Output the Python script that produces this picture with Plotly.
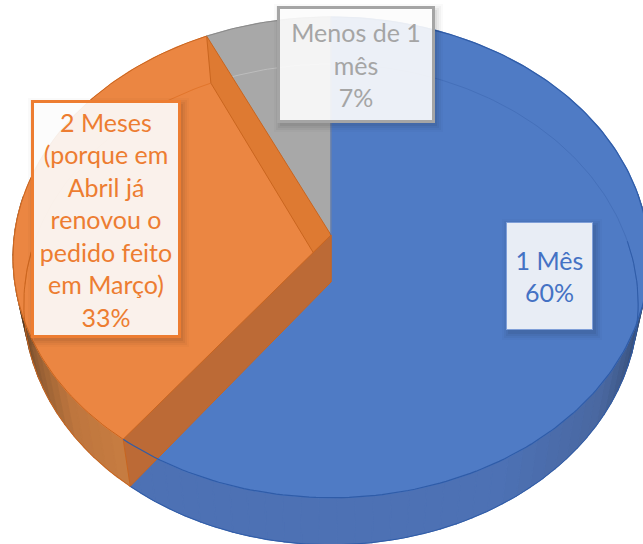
import numpy as np
import plotly.graph_objects as go

categories = ["1 Mês", "2 Meses (porque em Abril já renovou o pedido feito em Março)", "Menos de 1 mês"]
values = [60.4, 32.6, 7.0]
label_lines = [["1 Mês"], ["2 Meses", "(porque em", "Abril já", "renovou o", "pedido feito", "em Março)"], ["Menos de 1", "mês"]]
top_colors = ["#4F7BC5", "#EB8642", "#A8A8A8"]
text_colors = ["#4472C4", "#ED7D31", "#A5A5A5"]
box_borders = ["#7F9FD8", "#ED7D31", "#A5A5A5"]
# label boxes: left, top, right, bottom (page pixels)
boxes = [(506, 222, 592, 329), (32, 101, 179, 336), (278, 7, 433, 121)]
box_alpha = [0.88, 0.90, 0.90]
box_line = [1, 3, 3]

W, H = 643, 544
CX, CY_TOP, CY_BOT = 331, 235, 282
A, B, K = 316.6, 238.3, -0.093
BOT_X, BOT_Y = 0.966, 1.0


def proj(deg, level=0):
    t = np.radians(np.asarray(deg, dtype=float))
    u, v = np.sin(t), -np.cos(t)
    d = 1 + K * v
    if level == 0:
        return CX + A * u / d, CY_TOP + B * v / d
    return CX + BOT_X * A * u / d, CY_BOT + BOT_Y * B * v / d


def lerp_color(stops, a):
    xs = [s[0] for s in stops]
    rgb = [np.interp(a, xs, [s[1][i] for s in stops]) for i in range(3)]
    return "rgb(%d,%d,%d)" % tuple(rgb)


total = sum(values)
edges = np.cumsum([0] + values) / total * 360
b0, b1 = edges[0], edges[1]
o0, o1 = edges[1], edges[2]
g0, g1 = edges[2], edges[3]

fig = go.Figure()


def poly(x, y, fill, line=None, width=0):
    x = list(x) + [x[0]]
    y = list(y) + [y[0]]
    fig.add_trace(go.Scatter(x=x, y=y, mode="lines", fill="toself", fillcolor=fill,
                             line=dict(color=line or fill, width=width if line else 1.2),
                             hoverinfo="skip", showlegend=False))


def line(x, y, color, width=1.0):
    fig.add_trace(go.Scatter(x=list(x), y=list(y), mode="lines", line=dict(color=color, width=width),
                             hoverinfo="skip", showlegend=False))


blue_side = [(85, (38, 52, 80)), (100, (46, 66, 102)), (125, (74, 104, 160)), (150, (77, 113, 180)), (220, (77, 113, 180))]
orange_side = [(o0, (200, 125, 66)), (o0 + 14, (190, 118, 62)), (o0 + 30, (140, 90, 50)), (o0 + 42, (85, 58, 35)), (o0 + 60, (60, 42, 28))]


def side(a0, a1, stops, step=3):
    grid = np.append(np.arange(a0, a1, step), a1)
    for p, q in zip(grid[:-1], grid[1:]):
        s = np.linspace(p, q, 4)
        xt, yt = proj(s)
        xb, yb = proj(s, 1)
        poly(list(xt) + list(xb[::-1]), list(yt) + list(yb[::-1]), lerp_color(stops, (p + q) / 2))


side(80, b1, blue_side)
side(o0, o0 + 62, orange_side)

for a0, a1, c in [(b0, b1, top_colors[0]), (o0, o1, top_colors[1]), (g0, g1, top_colors[2])]:
    s = np.linspace(a0, a1, 160)
    x, y = proj(s)
    poly([CX] + list(x), [CY_TOP] + list(y), c)

# faint far edge of the base, seen through the glass top
arc = np.linspace(o0 + 52, o1, 50)
x, y = proj(arc, 1)
line(x, y, "#E2752B", 1)
arc = np.linspace(g0, g1, 30)
x, y = proj(arc, 1)
line(x, y, "#BDBDBD", 1)
arc = np.linspace(b0, 100, 90)
x, y = proj(arc, 1)
line(x, y, "#4570BA", 1)

# inner wall along the grey / orange boundary
xr, yr = proj(o1)
xrb, yrb = proj(o1, 1)
poly([CX, xr, xrb, CX], [CY_TOP, yr, yrb, CY_BOT], "#DE7A32", "#C9651F", 1)

# inner wall along the blue / orange boundary
xr, yr = proj(o0)
xrb, yrb = proj(o0, 1)
poly([CX, xr, xrb, CX], [CY_TOP, yr, yrb, CY_BOT], "#BC6A36", "#C9651F", 1)

# rims
s = np.linspace(b0, b1, 200)
x, y = proj(s)
line(x, y, "#2F5CA8", 1.2)
s = np.linspace(80, b1, 100)
x, y = proj(s, 1)
line(x, y, "#2F5CA8", 1)
s = np.linspace(o0, o1, 100)
x, y = proj(s)
line(x, y, "#C9651F", 1)
s = np.linspace(o0, o0 + 60, 60)
x, y = proj(s, 1)
line(x, y, "#C9651F", 1)
s = np.linspace(g0, g1, 30)
x, y = proj(s)
line(x, y, "#8A8A8A", 1)
line([CX, CX], [proj(0)[1], CY_TOP], "#3E67AE", 1)

shapes = []
annotations = []
for i, (l, t, r, b) in enumerate(boxes):
    for grow, alpha in [(7, 0.02), (5, 0.03), (3, 0.04), (1, 0.05)]:
        shapes.append(dict(type="rect", xref="x", yref="y", layer="above",
                           x0=l + 3 - grow, x1=r + 3 + grow, y0=t + 4 - grow, y1=b + 4 + grow,
                           line=dict(width=0), fillcolor="rgba(0,0,0,%g)" % alpha))
    pct = "%d%%" % round(values[i] / total * 100)
    text = "<br>".join(label_lines[i] + [pct])
    annotations.append(dict(x=(l + r) / 2, y=(t + b) / 2, xref="x", yref="y", text=text, showarrow=False,
                            width=r - l - box_line[i], height=b - t - box_line[i], align="center", valign="middle",
                            borderpad=0, borderwidth=box_line[i], bordercolor=box_borders[i],
                            bgcolor="rgba(255,255,255,%g)" % box_alpha[i],
                            font=dict(family="Lato", size=25, color=text_colors[i])))

fig.update_layout(width=W, height=H, margin=dict(l=0, r=0, t=0, b=0), paper_bgcolor="white", plot_bgcolor="white",
                  showlegend=False, shapes=shapes, annotations=annotations,
                  xaxis=dict(range=[0, W], visible=False, fixedrange=True),
                  yaxis=dict(range=[H, 0], visible=False, fixedrange=True))
fig.write_html("out.html", config={"displayModeBar": False},
               post_script="document.body.style.margin='0';document.body.style.overflow='hidden';")
